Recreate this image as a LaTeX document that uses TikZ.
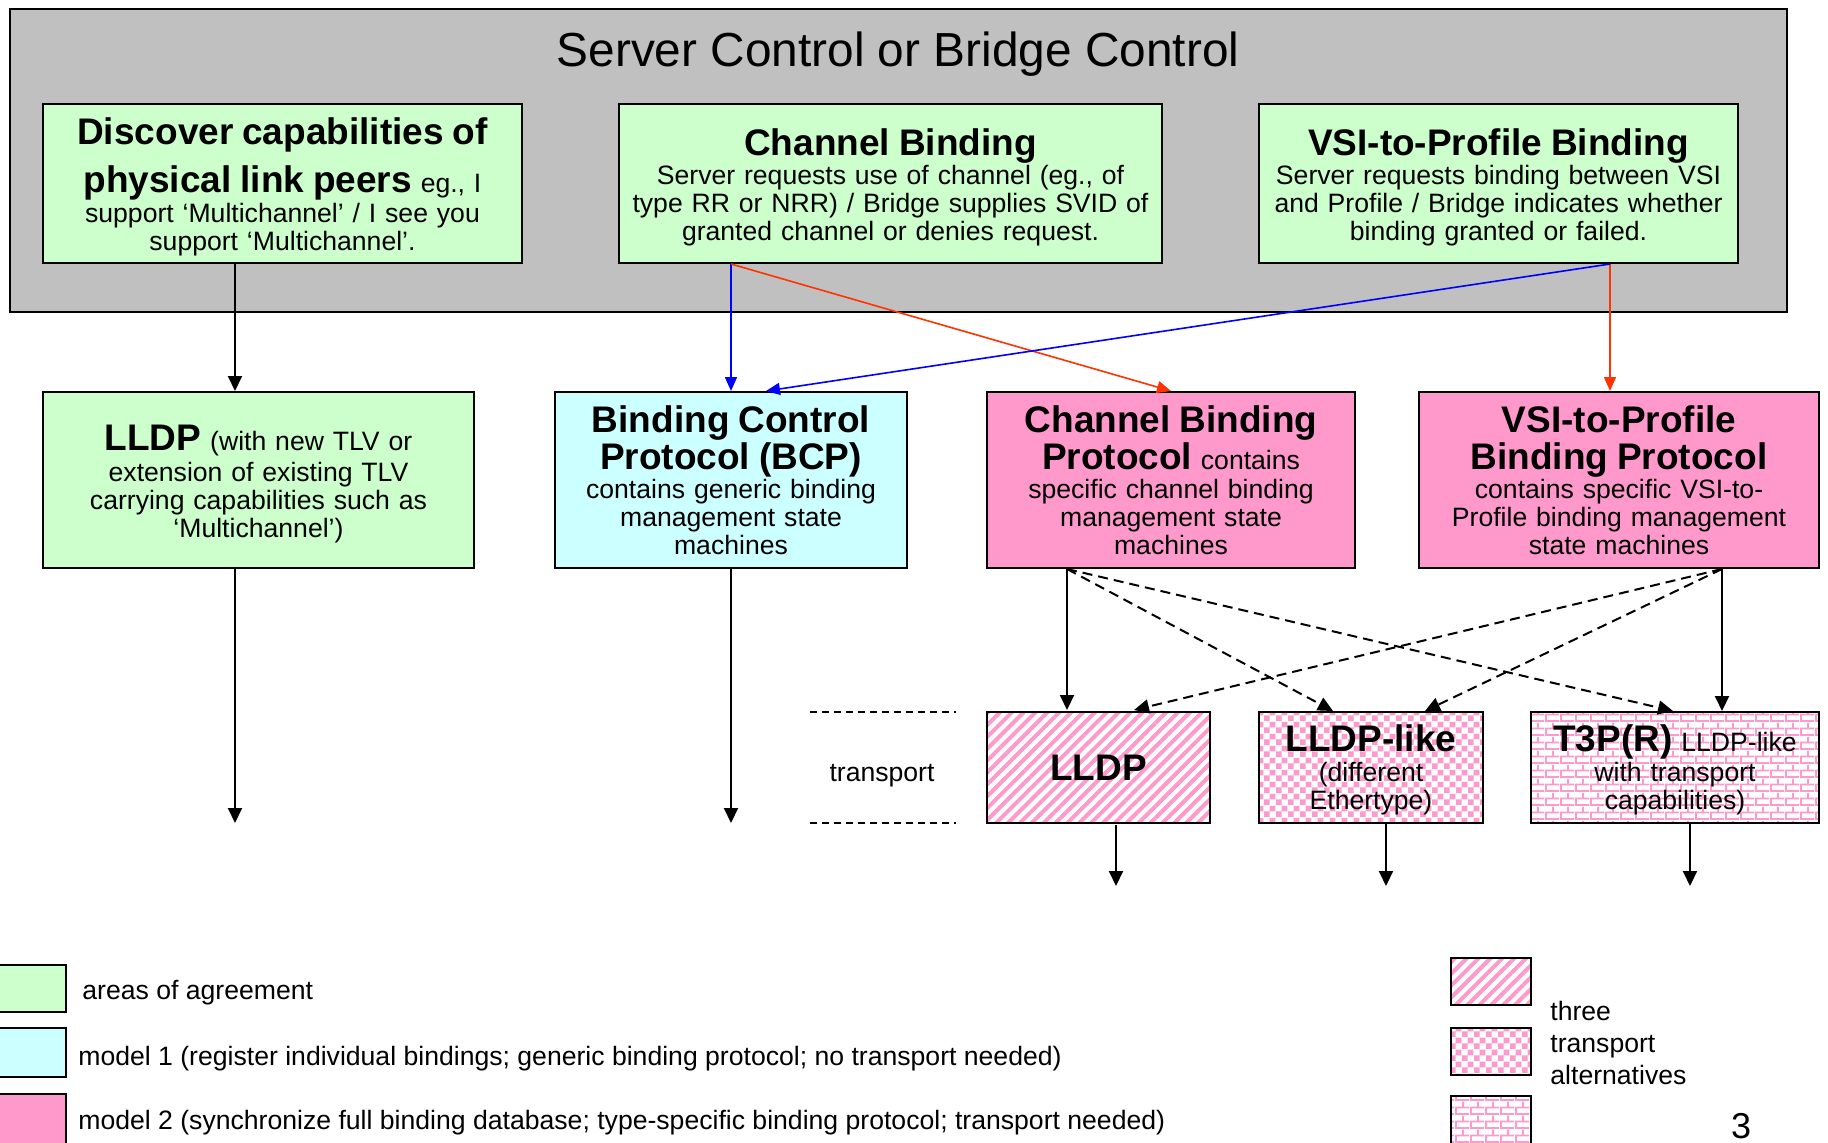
\documentclass[tikz,border=0pt]{standalone}
\usepackage{fontspec}
\setmainfont{Liberation Sans}
\usetikzlibrary{arrows.meta,patterns.meta}

\definecolor{ctrlgray}{RGB}{192,192,192}
\definecolor{agreegreen}{RGB}{204,255,204}
\definecolor{modelcyan}{RGB}{204,255,255}
\definecolor{modelpink}{RGB}{255,153,204}
\definecolor{arrred}{RGB}{255,51,0}
\definecolor{arrblue}{RGB}{0,0,255}

%checker and brick fills for the transport boxes
\pgfdeclarepattern{
  name=pinkchecks, type=uncolored,
  bottom left={\pgfpointorigin}, top right={\pgfqpoint{5.8pt}{5.8pt}},
  tile size={\pgfqpoint{5.8pt}{5.8pt}},
  code={
    \pgfpathrectangle{\pgfpointorigin}{\pgfqpoint{2.9pt}{2.9pt}}
    \pgfpathrectangle{\pgfqpoint{2.9pt}{2.9pt}}{\pgfqpoint{2.9pt}{2.9pt}}
    \pgfusepath{fill}
  }
}
\pgfdeclarepattern{
  name=pinkbricks, type=uncolored,
  bottom left={\pgfpointorigin}, top right={\pgfqpoint{7.5pt}{7pt}},
  tile size={\pgfqpoint{7.5pt}{7pt}},
  code={
    \pgfsetlinewidth{0.9pt}
    \pgfpathmoveto{\pgfqpoint{0pt}{0.5pt}}\pgfpathlineto{\pgfqpoint{7.5pt}{0.5pt}}
    \pgfpathmoveto{\pgfqpoint{0pt}{4pt}}\pgfpathlineto{\pgfqpoint{7.5pt}{4pt}}
    \pgfpathmoveto{\pgfqpoint{0.5pt}{0.5pt}}\pgfpathlineto{\pgfqpoint{0.5pt}{4pt}}
    \pgfpathmoveto{\pgfqpoint{4.25pt}{4pt}}\pgfpathlineto{\pgfqpoint{4.25pt}{7pt}}
    \pgfusepath{stroke}
  }
}

\newcommand\hd[1]{{\fontsize{18.5}{14}\selectfont\bfseries #1}}
\newcommand\lift[1]{\rule{0pt}{#1}}
\newcommand\boxfont{\fontsize{13.3}{14}\selectfont\lineskiplimit=-100pt\relax\parindent=0pt\relax}
\newcommand\plainfont{\fontsize{13.3}{14}\selectfont}

\begin{document}
\begin{tikzpicture}[x=0.5pt,y=0.5pt,yscale=-1,xscale=1,
  boxbase/.style={font=\boxfont, draw, line width=1pt, inner sep=0pt, align=center},
  agree/.style={boxbase, fill=agreegreen},
  model1/.style={boxbase, fill=modelcyan},
  model2/.style={boxbase, fill=modelpink},
  stripes/.style={boxbase, pattern={Lines[angle=45,distance=4.2pt,line width=2pt]}, pattern color=modelpink},
  checks/.style={boxbase, pattern=pinkchecks, pattern color=modelpink},
  bricks/.style={boxbase, pattern=pinkbricks, pattern color=modelpink},
  legtext/.style={font=\plainfont, anchor=west, inner sep=0pt},
  blk/.style={-{Triangle[width=7pt,length=7.5pt]}, line width=1pt},
  dsh/.style={blk, dash pattern=on 5pt off 3pt},
  redarr/.style={-{Triangle[width=6pt,length=7pt]}, line width=0.8pt, color=arrred},
  bluearr/.style={redarr, color=arrblue}]
\useasboundingbox (0,0) rectangle (1828,1142);

%Server Control
\draw [fill=ctrlgray, line width=1pt] (10,9) rectangle (1787,312);
\node (title) at (898,54) {\fontsize{23.9}{24}\selectfont Server Control or Bridge Control};

\node [agree, minimum width=239.5pt, minimum height=79.5pt, text width=232pt] (disc) at (282.5,183.5)
  {\lift{16.5pt}\hd{Discover capabilities of}\\[10pt] \hd{physical link peers} eg., I\\[1.2pt] support ‘Multichannel’ / I see you\\ support ‘Multichannel’.};
\node [agree, minimum width=271.5pt, minimum height=79.5pt, text width=265pt] (cb) at (890.5,183.5)
  {\lift{17.5pt}\hd{Channel Binding}\\[0.75pt] Server requests use of channel (eg., of\\ type RR or NRR) / Bridge supplies SVID of\\ granted channel or denies request.};
\node [agree, minimum width=239.5pt, minimum height=79.5pt, text width=232pt] (vsi) at (1498.5,183.5)
  {\lift{17.5pt}\hd{VSI-to-Profile Binding}\\[0.75pt] Server requests binding between VSI\\ and Profile / Bridge indicates whether\\ binding granted or failed.};

%Protocols
\node [agree, minimum width=215.5pt, minimum height=88pt, text width=208pt] (lldp) at (258.5,480)
  {\lift{17pt}\hd{LLDP} (with new TLV or\\[1.5pt] extension of existing TLV\\ carrying capabilities such as\\ ‘Multichannel’)};
\node [model1, minimum width=176pt, minimum height=88pt, text width=170pt] (bcp) at (731,480)
  {\hd{Binding Control}\\[4.5pt] \hd{Protocol (BCP)}\\[0.75pt] contains generic binding\\ management state\\ machines};
\node [model2, minimum width=184pt, minimum height=88pt, text width=178pt] (cbp) at (1171,480)
  {\hd{Channel Binding}\\[4.5pt] \hd{Protocol} contains\\[0.75pt] specific channel binding\\ management state\\ machines};
\node [model2, minimum width=200pt, minimum height=88pt, text width=194pt] (vsip) at (1619,480)
  {\hd{VSI-to-Profile}\\[4.5pt] \hd{Binding Protocol}\\[0.75pt] contains specific VSI-to-\\ Profile binding management\\ state machines};

%Transports
\node [stripes, minimum width=111.5pt, minimum height=55.5pt, text width=106pt] (tlldp) at (1098.5,767.5) {\hd{LLDP}};
\node [checks, minimum width=112pt, minimum height=55.5pt, text width=106pt] (tlike) at (1371,767.5)
  {\lift{15.5pt}\hd{LLDP-like}\\[1.25pt] (different\\ Ethertype)};
\node [bricks, minimum width=144pt, minimum height=55.5pt, text width=138pt] (t3p) at (1675,767.5)
  {\lift{15.5pt}\hd{T3P(R)} LLDP-like\\[1.25pt] with transport\\ capabilities)};

\draw [dash pattern=on 3.5pt off 2.5pt, line width=1pt] (810,712) -- (956,712) (810,823) -- (956,823);
\node [font=\plainfont] (transp) at (882,775.5) {transport};

%Arrows
\coordinate (c1) at (235,0);
\coordinate (end1) at (235,823);
\coordinate (end2) at (731,823);
\coordinate (c4) at (1610,0);
\coordinate (c5) at (1067,0);
\coordinate (c6) at (1722,0);
\coordinate (end3) at (1116,886);
\coordinate (end4) at (1386,886);
\coordinate (end5) at (1690,886);

\draw [blk] (disc.south -| c1) -- (lldp.north -| c1);
\draw [blk] (lldp.south -| c1) -- (end1);
\draw [blk] (bcp.south) -- (end2);
\draw [bluearr] (cb.south -| bcp.north) -- (bcp.north);
\draw [redarr] (cb.south -| bcp.north) -- (cbp.north);
\draw [redarr] (vsi.south -| c4) -- (vsip.north -| c4);
\draw [bluearr] (vsi.south -| c4) -- ([xshift=17.5pt]bcp.north);

\draw [blk] (cbp.south -| c5) -- (tlldp.north -| c5);
\draw [dsh] (cbp.south -| c5) -- ([xshift=-19pt]tlike.north);
\draw [dsh] (cbp.south -| c5) -- ([xshift=-1pt]t3p.north);
\draw [blk] (vsip.south -| c6) -- (t3p.north -| c6);
\draw [dsh] (vsip.south -| c6) -- ([xshift=17.75pt]tlldp.north);
\draw [dsh] (vsip.south -| c6) -- ([xshift=27pt]tlike.north);

\draw [blk] (tlldp.south -| end3) -- (end3);
\draw [blk] (tlike.south -| end4) -- (end4);
\draw [blk] (t3p.south -| end5) -- (end5);

%Legend
\draw [fill=agreegreen, line width=1pt] (-10,965) rectangle (66,1012);
\draw [fill=modelcyan, line width=1pt] (-10,1028) rectangle (66,1077);
\draw [fill=modelpink, line width=1pt] (-10,1094) rectangle (66,1150);
\node [legtext] (leg1) at (82,992.5) {areas of agreement};
\node [legtext] (leg2) at (78,1058.5) {model 1 (register individual bindings; generic binding protocol; no transport needed)};
\node [legtext] (leg3) at (78,1122.5) {model 2 (synchronize full binding database; type-specific binding protocol; transport needed)};

\draw [pattern={Lines[angle=45,distance=4.2pt,line width=2pt]}, pattern color=modelpink, line width=1pt] (1451,958) rectangle (1531,1005);
\draw [pattern=pinkchecks, pattern color=modelpink, line width=1pt] (1451,1028) rectangle (1531,1075);
\draw [pattern=pinkbricks, pattern color=modelpink, line width=1pt] (1451,1096) rectangle (1531,1150);
\node [inner sep=0pt, anchor=west, align=left, font=\fontsize{13.3}{16}\selectfont] (leg4) at (1550,1043) {three\\ transport\\ alternatives};
\node [inner sep=0pt] (page) at (1741,1126) {\fontsize{18}{18}\selectfont 3};

\end{tikzpicture}
\end{document}
